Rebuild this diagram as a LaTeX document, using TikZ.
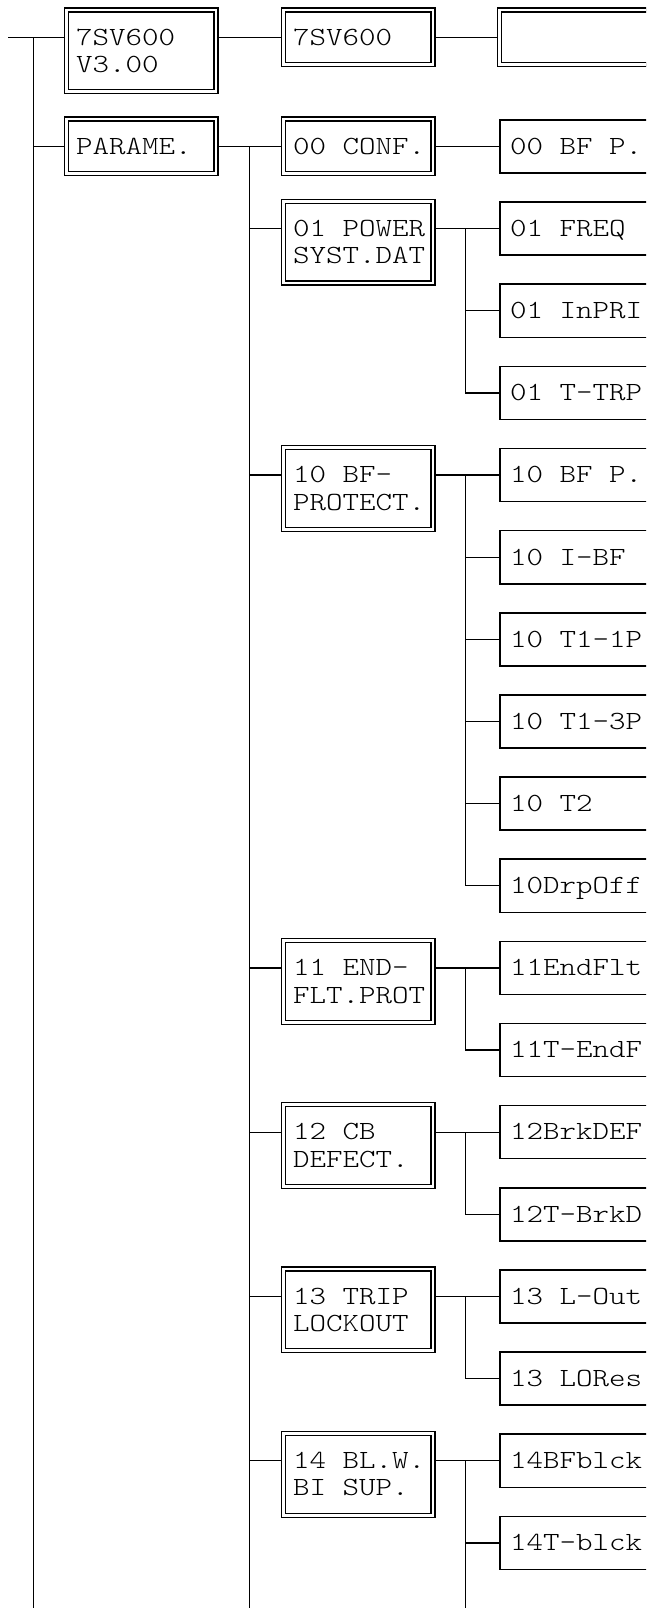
\documentclass[tikz,border=0pt]{standalone}
\usepackage{fontspec}
\newfontfamily\lmm[Extension=.otf, FakeStretch=1.2]{lmmonolt10-regular}
\usetikzlibrary{calc}
\newcommand\twol[2]{\begin{tabular}[t]{@{}l@{}}#1\\#2\end{tabular}}
\begin{document}
\begin{tikzpicture}[x=1pt,y=-1pt,
  conn/.style={line width=1.3pt},
  dbox/.style={draw, line width=1.2pt, double, double distance=2.8pt, minimum width=149.8pt, minimum height=54.8pt, inner sep=0pt, outer sep=2.6pt, anchor=north west},
  dboxtwo/.style={dbox, minimum height=81.8pt},
  sbox/.style={draw, line width=1.5pt, minimum width=220pt, minimum height=53.1pt, inner sep=0pt, anchor=west},
  txt/.style={anchor=base west, inner sep=0pt, font={\lmm\fontsize{26.2pt}{27.3pt}\selectfont}}]
\useasboundingbox (0,0) rectangle (646,1608);
\clip (0,0) rectangle (646,1608);
\foreach \k in {0,...,17} {\coordinate (r\k) at (0,{146.5+82.14*\k});}
% top row
\node[dboxtwo] (b1) at (63.5,7.5) {};
\node[txt] (b1t) at (76,45.3) {\twol{7SV600}{V3.00}};
\node[dbox] (b2) at (280.5,7.5) {};
\node[txt] (b2t) at (293,45.3) {7SV600};
\node[dbox, minimum width=220pt] (b3) at (497,7.5) {};
% column 1
\node[dbox] (par) at ($(r0)+(63.5,-30)$) {};
\node[txt] (part) at ($(r0)+(76,7.8)$) {PARAME.};
% column 2
\node[dbox] (c0) at ($(r0)+(280.5,-30)$) {};
\node[txt] (ct0) at ($(r0)+(293,7.8)$) {00 CONF.};
\foreach \k/\a/\b in {1/01 POWER/SYST.DAT, 4/10 BF-/PROTECT., 10/11 END-/FLT.PROT, 12/12 CB/DEFECT., 14/13 TRIP/LOCKOUT, 16/14 BL.W./BI SUP.} {
  \node[dboxtwo] (c\k) at ($(r\k)+(280.5,-30)$) {};
  \node[txt] (ct\k) at ($(r\k)+(293,7.8)$) {\twol{\a}{\b}};
}
% column 3
\foreach \k/\t in {0/00 BF P., 1/01 FREQ, 2/01 InPRI, 3/01 T-TRP, 4/10 BF P., 5/10 I-BF, 6/10 T1-1P, 7/10 T1-3P, 8/10 T2, 9/10DrpOff, 10/11EndFlt, 11/11T-EndF, 12/12BrkDEF, 13/12T-BrkD, 14/13 L-Out, 15/13 LORes, 16/14BFblck, 17/14T-blck} {
  \node[sbox] (d\k) at ($(r\k)+(499,0)$) {};
  \node[txt] (dt\k) at ($(r\k)+(510,7.8)$) {\t};
}
% connectors
\coordinate (stub) at (8.3,37.5);
\coordinate (trunk) at (33.3,37.5);
\coordinate (trunkend) at (33.3,1612);
\coordinate (v2) at (249.5,146.5);
\coordinate (v2end) at (249.5,1612);
\coordinate (v3) at (465.7,0);
\coordinate (v3end) at (465.7,1612);
\draw[conn] (stub) -- (stub -| b1.west);
\draw[conn] (trunk) -- (trunkend);
\draw[conn] (trunk |- r0) -- (par.west);
\draw[conn] (b1.east |- b2.west) -- (b2.west);
\draw[conn] (b2.east) -- (b3.west);
\draw[conn] (par.east) -- (c0.west);
\draw[conn] (v2) -- (v2end);
\foreach \k in {1,4,10,12,14,16} {\draw[conn] (v2 |- r\k) -- (c\k.west |- r\k);}
\draw[conn] (c0.east) -- (d0.west);
\foreach \k in {1,4,10,12,14,16} {\draw[conn] (c\k.east |- r\k) -- (d\k.west);}
\draw[conn] (v3 |- r1) -- (v3 |- r3) -- (d3.west);
\draw[conn] (v3 |- r4) -- (v3 |- r9) -- (d9.west);
\draw[conn] (v3 |- r10) -- (v3 |- r11) -- (d11.west);
\draw[conn] (v3 |- r12) -- (v3 |- r13) -- (d13.west);
\draw[conn] (v3 |- r14) -- (v3 |- r15) -- (d15.west);
\draw[conn] (v3 |- r16) -- (v3end);
\foreach \k in {2,5,6,7,8,17} {\draw[conn] (v3 |- r\k) -- (d\k.west);}
\end{tikzpicture}
\end{document}
